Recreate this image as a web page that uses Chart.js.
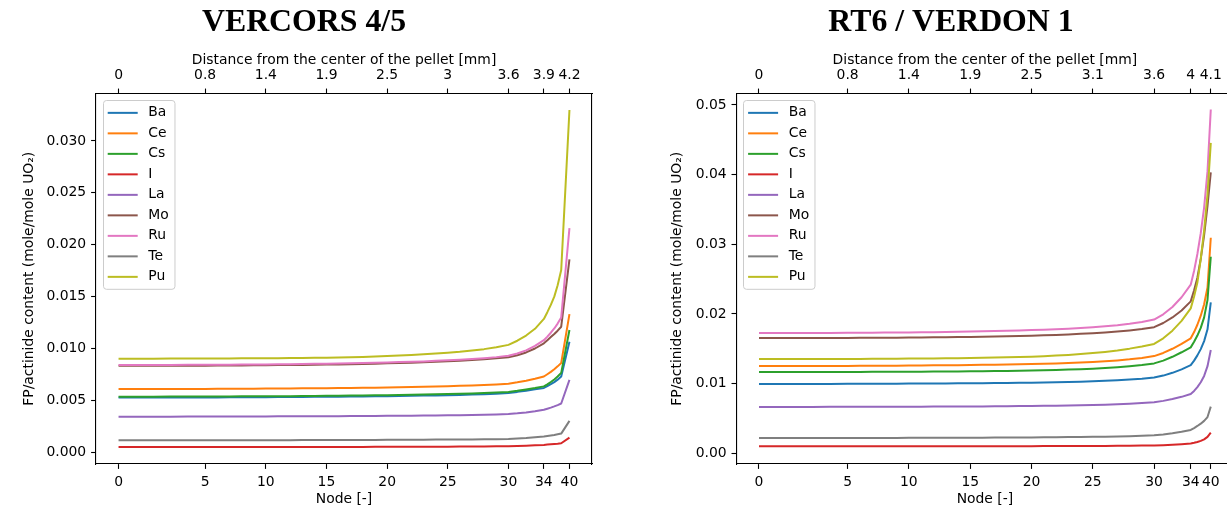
<!DOCTYPE html>
<html><head><meta charset="utf-8">
<script src="https://cdn.jsdelivr.net/npm/chart.js@4.4.1/dist/chart.umd.min.js"></script>
<style>
html,body{margin:0;padding:0;background:#fff;overflow:hidden;width:1227px;height:509px;}
.panel{position:absolute;top:0;height:509px;}
#pL{left:0;width:608px;}
#pR{left:613px;width:676px;}
canvas{display:block;}
</style></head><body>
<div class="panel" id="pL"><canvas id="cL" width="608" height="509"></canvas></div>
<div class="panel" id="pR"><canvas id="cR" width="676" height="509"></canvas></div>
<script>
// ---------- data ----------
const elements = ['Ba','Ce','Cs','I','La','Mo','Ru','Te','Pu'];
const nodeTicks = [0,5,10,15,20,25,30,34,40];
const topLabelsL = ['0','0.8','1.4','1.9','2.5','3','3.6','3.9','4.2'];
const topLabelsR = ['0','0.8','1.4','1.9','2.5','3.1','3.6','4','4.1'];
const yTicksL = [0,0.005,0.010,0.015,0.020,0.025,0.030];
const yTickLabelsL = ['0.000','0.005','0.010','0.015','0.020','0.025','0.030'];
const yTicksR = [0,0.01,0.02,0.03,0.04,0.05];
const yTickLabelsR = ['0.00','0.01','0.02','0.03','0.04','0.05'];

// distance from pellet centre (mm) of each node 0..40
const distL = [0,0.159,0.320,0.480,0.640,0.799,0.911,1.024,1.135,1.247,1.359,1.471,1.583,1.694,1.807,1.918,2.029,2.142,2.253,2.366,2.478,2.589,2.702,2.813,2.926,3.037,3.148,3.261,3.372,3.485,3.597,3.679,3.760,3.842,3.924,3.956,3.988,4.020,4.051,4.084,4.160];
const distR = [0,0.163,0.325,0.488,0.650,0.813,0.925,1.038,1.150,1.263,1.375,1.488,1.600,1.713,1.825,1.938,2.050,2.163,2.275,2.388,2.500,2.613,2.725,2.838,2.950,3.063,3.175,3.288,3.400,3.513,3.625,3.709,3.793,3.877,3.961,3.992,4.022,4.053,4.084,4.115,4.145];

// VERCORS 4/5
const baL = [.00528,.00528,.00528,.00528,.00529,.00529,.00529,.00530,.00530,.00531,.00531,.00532,.00532,.00533,.00534,.00535,.00536,.00537,.00538,.00539,.00541,.00542,.00544,.00546,.00548,.00550,.00553,.00556,.00560,.00565,.00572,.00582,.00594,.00607,.00620,.00637,.00656,.00676,.00700,.00730,.01066];
const ceL = [.00610,.00610,.00610,.00611,.00611,.00611,.00612,.00612,.00613,.00613,.00614,.00615,.00615,.00616,.00617,.00618,.00619,.00620,.00622,.00623,.00625,.00627,.00629,.00631,.00634,.00637,.00640,.00644,.00649,.00654,.00661,.00674,.00690,.00709,.00730,.00752,.00775,.00800,.00828,.00860,.01332];
const csL = [.00536,.00536,.00536,.00537,.00537,.00537,.00538,.00538,.00539,.00539,.00540,.00541,.00541,.00542,.00543,.00544,.00545,.00546,.00547,.00549,.00550,.00552,.00554,.00556,.00558,.00561,.00564,.00567,.00571,.00576,.00582,.00592,.00605,.00619,.00635,.00655,.00677,.00702,.00730,.00765,.01178];
const iL  = [.00051,.00051,.00051,.00051,.00051,.00051,.00051,.00051,.00051,.00051,.00051,.00052,.00052,.00052,.00052,.00052,.00052,.00052,.00052,.00053,.00053,.00053,.00053,.00054,.00054,.00054,.00055,.00055,.00056,.00057,.00058,.00060,.00063,.00067,.00071,.00074,.00077,.00080,.00083,.00087,.00141];
const laL = [.00343,.00343,.00343,.00343,.00344,.00344,.00344,.00344,.00345,.00345,.00345,.00346,.00346,.00347,.00347,.00348,.00348,.00349,.00349,.00350,.00351,.00352,.00353,.00354,.00355,.00356,.00358,.00360,.00362,.00365,.00369,.00375,.00383,.00395,.00410,.00420,.00430,.00442,.00455,.00470,.00697];
const moL = [.00833,.00833,.00834,.00834,.00835,.00835,.00836,.00836,.00837,.00838,.00839,.00840,.00841,.00842,.00843,.00845,.00847,.00849,.00851,.00854,.00857,.00860,.00863,.00867,.00872,.00877,.00883,.00889,.00896,.00905,.00915,.00935,.00962,.01000,.01050,.01080,.01110,.01140,.01172,.01210,.01860];
const ruL = [.00841,.00841,.00842,.00842,.00843,.00843,.00844,.00844,.00845,.00846,.00847,.00848,.00849,.00850,.00852,.00853,.00855,.00857,.00860,.00863,.00866,.00869,.00872,.00876,.00881,.00886,.00892,.00899,.00907,.00917,.00930,.00952,.00982,.01025,.01080,.01115,.01152,.01193,.01240,.01300,.02160];
const teL = [.00116,.00116,.00116,.00116,.00116,.00116,.00116,.00117,.00117,.00117,.00117,.00117,.00117,.00118,.00118,.00118,.00118,.00119,.00119,.00119,.00120,.00120,.00121,.00121,.00122,.00122,.00123,.00124,.00125,.00126,.00128,.00132,.00137,.00144,.00152,.00157,.00162,.00167,.00173,.00180,.00303];
const puL = [.00902,.00902,.00902,.00903,.00903,.00903,.00904,.00904,.00905,.00905,.00906,.00907,.00908,.00909,.00910,.00912,.00914,.00916,.00919,.00923,.00928,.00933,.00938,.00944,.00951,.00959,.00968,.00980,.00994,.01012,.01035,.01075,.01125,.01190,.01285,.01350,.01420,.01500,.01610,.01756,.03298];

// RT6 / VERDON 1
const baR = [.00995,.00995,.00995,.00996,.00996,.00997,.00997,.00998,.00998,.00999,.01000,.01001,.01002,.01003,.01004,.01005,.01006,.01007,.01009,.01011,.01013,.01016,.01019,.01023,.01028,.01034,.01041,.01049,.01059,.01071,.01087,.01115,.01155,.01205,.01265,.01330,.01405,.01495,.01610,.01780,.02166];
const ceR = [.01252,.01252,.01253,.01253,.01254,.01254,.01255,.01256,.01257,.01258,.01259,.01260,.01262,.01263,.01265,.01267,.01269,.01271,.01274,.01277,.01281,.01285,.01290,.01296,.01303,.01311,.01321,.01333,.01348,.01368,.01395,.01440,.01500,.01570,.01650,.01740,.01845,.01975,.02140,.02380,.03093];
const csR = [.01166,.01166,.01166,.01167,.01167,.01168,.01168,.01169,.01169,.01170,.01171,.01172,.01173,.01174,.01175,.01177,.01178,.01180,.01182,.01185,.01188,.01192,.01196,.01201,.01207,.01214,.01223,.01234,.01248,.01266,.01290,.01330,.01385,.01450,.01520,.01600,.01690,.01800,.01950,.02200,.02821];
const iR  = [.00100,.00100,.00100,.00100,.00100,.00100,.00100,.00100,.00100,.00100,.00100,.00101,.00101,.00101,.00101,.00101,.00101,.00102,.00102,.00102,.00102,.00103,.00103,.00104,.00104,.00105,.00106,.00107,.00108,.00110,.00112,.00116,.00122,.00130,.00140,.00150,.00162,.00178,.00200,.00235,.00296];
const laR = [.00666,.00666,.00666,.00666,.00667,.00667,.00667,.00668,.00668,.00668,.00669,.00669,.00670,.00670,.00671,.00672,.00673,.00674,.00675,.00677,.00679,.00681,.00683,.00686,.00689,.00693,.00698,.00704,.00711,.00720,.00732,.00752,.00778,.00810,.00850,.00895,.00950,.01020,.01110,.01250,.01482];
const moR = [.01654,.01654,.01655,.01655,.01656,.01656,.01657,.01658,.01659,.01660,.01661,.01663,.01664,.01666,.01668,.01670,.01673,.01676,.01679,.01683,.01688,.01693,.01699,.01706,.01714,.01723,.01734,.01747,.01763,.01783,.01810,.01870,.01950,.02050,.02180,.02340,.02520,.02790,.03130,.03550,.04031];
const ruR = [.01726,.01726,.01727,.01727,.01728,.01729,.01730,.01731,.01732,.01734,.01735,.01737,.01739,.01741,.01744,.01747,.01750,.01754,.01758,.01763,.01768,.01774,.01781,.01789,.01798,.01809,.01822,.01838,.01858,.01884,.01920,.01995,.02100,.02240,.02420,.02620,.02860,.03160,.03530,.04050,.04935];
const teR = [.00220,.00220,.00220,.00220,.00220,.00220,.00221,.00221,.00221,.00221,.00222,.00222,.00222,.00223,.00223,.00224,.00224,.00225,.00226,.00227,.00228,.00229,.00230,.00232,.00234,.00236,.00238,.00241,.00245,.00250,.00257,.00270,.00287,.00308,.00335,.00362,.00392,.00425,.00465,.00520,.00669];
const puR = [.01353,.01353,.01353,.01354,.01354,.01355,.01355,.01356,.01357,.01358,.01359,.01360,.01362,.01363,.01365,.01367,.01370,.01373,.01377,.01382,.01387,.01394,.01402,.01412,.01424,.01438,.01455,.01476,.01502,.01533,.01570,.01650,.01760,.01900,.02080,.02250,.02450,.02790,.03200,.03720,.04456];

// ---------- styling / chart construction ----------
const palette = ['#1f77b4','#ff7f0e','#2ca02c','#d62728','#9467bd','#8c564b','#e377c2','#7f7f7f','#bcbd22'];
const FONT = 'DejaVu Sans';
const FS = 13.9;
const tickFont = {family: FONT, size: FS, lineHeight: 1.2};

const legendPlugin = {
  id: 'insideLegend',
  afterDatasetsDraw(chart) {
    const {ctx, chartArea} = chart;
    const ds = chart.data.datasets;
    ctx.save();
    ctx.font = FS + 'px "' + FONT + '"';
    const x0 = chartArea.left + 6.9, y0 = chartArea.top + 6.9;
    const pitch = 20.5;
    let maxW = 0;
    ds.forEach(d => { maxW = Math.max(maxW, ctx.measureText(d.label).width); });
    const w = 45.4 + maxW + 5.6;
    const h = 12.5 + pitch * (ds.length - 1) + 12.3;
    ctx.beginPath();
    ctx.roundRect(Math.round(x0) + 0.5, Math.round(y0) + 0.5, w, h, 3);
    ctx.fillStyle = 'rgba(255,255,255,0.8)';
    ctx.fill();
    ctx.strokeStyle = '#cccccc';
    ctx.lineWidth = 1;
    ctx.stroke();
    ds.forEach((d, i) => {
      const cy = y0 + 12.5 + i * pitch;
      ctx.strokeStyle = d.borderColor;
      ctx.lineWidth = 2;
      ctx.beginPath();
      ctx.moveTo(x0 + 4.8, cy);
      ctx.lineTo(x0 + 34.8, cy);
      ctx.stroke();
      ctx.fillStyle = '#000';
      ctx.textAlign = 'left';
      ctx.textBaseline = 'middle';
      ctx.fillText(d.label, x0 + 45.4, cy);
    });
    ctx.restore();
  }
};

function build(id, p) {
  const datasets = p.series.map((vals, i) => ({
    label: elements[i],
    data: vals.map((v, k) => ({x: p.dist[k], y: v})),
    borderColor: palette[i],
    backgroundColor: palette[i],
    borderWidth: 2,
    borderJoinStyle: 'round',
    pointRadius: 0,
    pointHoverRadius: 0,
    tension: 0,
    fill: false,
    order: p.series.length - i
  }));
  const xTickSet = s => { s.ticks = nodeTicks.map(n => ({value: p.dist[n]})); };
  const gridTicks = {display: true, drawOnChartArea: false, drawTicks: true, tickLength: 4.9, tickWidth: 1.1, tickColor: '#000'};
  const border = {display: true, color: '#000', width: 1.1};
  return new Chart(document.getElementById(id), {
    type: 'line',
    data: {datasets},
    plugins: [legendPlugin],
    options: {
      responsive: false,
      animation: false,
      events: [],
      layout: {padding: 0},
      plugins: {
        legend: {display: false},
        tooltip: {enabled: false},
        title: {
          display: true, text: p.title, color: '#000',
          font: {family: 'Liberation Serif', size: 31.8, weight: 'bold', lineHeight: 1.2},
          padding: {top: 3.4, bottom: 0}
        }
      },
      scales: {
        x: {
          type: 'linear', position: 'bottom', min: p.xMin, max: p.xMax,
          afterBuildTicks: xTickSet,
          afterFit: s => { s.height = 45; },
          ticks: {autoSkip: false, maxRotation: 0, minRotation: 0, padding: 4.9, color: '#000', font: tickFont,
                  callback: (v, i) => String(nodeTicks[i])},
          grid: gridTicks, border: border,
          title: {display: true, text: 'Node [-]', color: '#000', font: tickFont, padding: {top: 0, bottom: 1.7}}
        },
        xTop: {
          type: 'linear', position: 'top', min: p.xMin, max: p.xMax,
          afterBuildTicks: xTickSet,
          afterFit: s => { s.height = 51.9; },
          ticks: {autoSkip: false, maxRotation: 0, minRotation: 0, padding: 4.9, color: '#000', font: tickFont,
                  callback: (v, i) => p.topLabels[i]},
          grid: gridTicks, border: border,
          title: {display: true, text: 'Distance from the center of the pellet [mm]', color: '#000', font: tickFont, padding: {top: 10, bottom: 0}}
        },
        y: {
          type: 'linear', position: 'left', min: p.yMin, max: p.yMax,
          afterBuildTicks: s => { s.ticks = p.yTicks.map(v => ({value: v})); },
          afterFit: s => { s.width = p.yWidth; },
          ticks: {padding: 4.9, color: '#000', font: tickFont, callback: (v, i) => p.yTickLabels[i]},
          grid: gridTicks, border: border,
          title: {display: true, text: 'FP/actinide content (mole/mole UO\u2082)', color: '#000', font: tickFont,
                  padding: {top: p.yTitlePad, bottom: 0}}
        },
        yRight: {
          type: 'linear', position: 'right', min: 0, max: 1,
          ticks: {display: false}, grid: {display: false}, border: border,
          afterFit: s => { s.width = p.rightW; }
        }
      }
    }
  });
}

build('cL', {
  title: 'VERCORS 4/5',
  series: [baL, ceL, csL, iL, laL, moL, ruL, teL, puL],
  dist: distL, topLabels: topLabelsL,
  xMin: -0.208, xMax: 4.368,
  yMin: -0.00113, yMax: 0.03458,
  yTicks: yTicksL, yTickLabels: yTickLabelsL,
  yWidth: 96, yTitlePad: 20.7, rightW: 16
});
build('cR', {
  title: 'RT6 / VERDON 1',
  series: [baR, ceR, csR, iR, laR, moR, ruR, teR, puR],
  dist: distR, topLabels: topLabelsR,
  xMin: -0.2073, xMax: 4.3525,
  yMin: -0.00154, yMax: 0.05165,
  yTicks: yTicksR, yTickLabels: yTickLabelsR,
  yWidth: 123.4, yTitlePad: 56.2, rightW: 55.6
});
</script>
</body></html>
